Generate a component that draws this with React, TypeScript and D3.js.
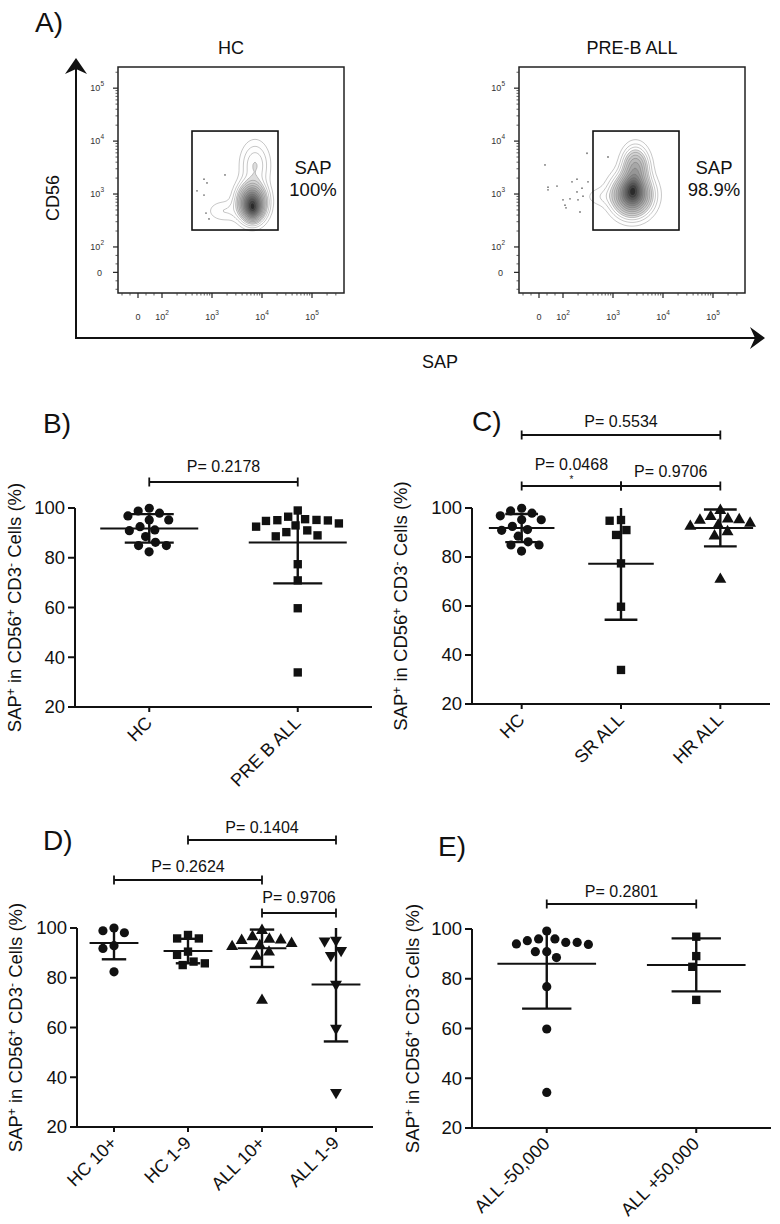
import React from "react";
import * as d3 from "d3";

const FONT = "'Liberation Sans', Arial, Helvetica, sans-serif";

// ---------------- Data ----------------
// % SAP+ in CD56+ CD3- cells
const hcValues = [99.9, 98.8, 97.9, 96.8, 95.2, 95.2, 92.5, 91.2, 90.9, 88.5, 86.2, 84.9, 84.9, 82.4];
const srAllValues = [94.8, 95.1, 91.0, 89.0, 77.4, 59.7, 33.9];
const hrAllValues = [99.0, 96.5, 95.5, 95.2, 95.0, 93.8, 93.0, 92.5, 90.3, 88.6, 70.9];
const preBAllValues = [...srAllValues, ...hrAllValues];
const hc10PlusValues = [100.0, 98.1, 98.9, 92.9, 91.8, 82.4];
const hc1to9Values = [97.2, 95.8, 95.8, 90.5, 89.2, 86.5, 85.8, 85.1];
const all10PlusValues = [99.0, 96.5, 95.5, 95.2, 95.0, 93.8, 93.0, 92.5, 90.3, 88.6, 70.9];
const all1to9Values = [94.8, 95.1, 91.0, 89.0, 77.4, 59.7, 33.9];
const allBelow50kValues = [99.2, 96.0, 94.0, 94.6, 93.8, 94.6, 95.3, 96.0, 90.9, 90.9, 88.5, 76.8, 59.8, 34.3];
const allAbove50kValues = [96.9, 89.1, 84.8, 71.5];

const yTickValues = [20, 40, 60, 80, 100];

const bCategories = ["HC", "PRE B ALL"];
const cCategories = ["HC", "SR ALL", "HR ALL"];
const dCategories = ["HC 10+", "HC 1-9", "ALL 10+", "ALL 1-9"];
const eCategories = ["ALL -50,000", "ALL +50,000"];

const bPLabels = ["P= 0.2178"];
const cPLabels = ["P= 0.5534", "P= 0.0468", "P= 0.9706"];
const dPLabels = ["P= 0.1404", "P= 0.2624", "P= 0.9706"];
const ePLabels = ["P= 0.2801"];

// Flow cytometry (panel A), axes in decades (log10 units)
const flowSamples = ["HC", "PRE-B ALL"];
const flowPercents = ["100%", "98.9%"];
const flowMajorTicks = [1.52, 2, 3, 4, 5];
const flowMajorLabels = ["0", "2", "3", "4", "5"];
const flowLinearMinorTicks = [1.2, 1.36, 1.68, 1.84];
const gateSAP = [2.6, 4.32];
const gateCD56 = [2.32, 4.19];
const hcPopulations = [
  { sap: 3.8, cd56: 2.85, sSap: 0.16, sCd56: 0.2, w: 1 },
  { sap: 3.82, cd56: 2.7, sSap: 0.1, sCd56: 0.12, w: 0.5 },
  { sap: 3.86, cd56: 3.55, sSap: 0.17, sCd56: 0.26, w: 0.15 },
  { sap: 3.25, cd56: 2.68, sSap: 0.22, sCd56: 0.13, w: 0.06 },
];
const preBPopulations = [
  { sap: 3.38, cd56: 2.98, sSap: 0.22, sCd56: 0.22, w: 1 },
  { sap: 3.4, cd56: 3.1, sSap: 0.12, sCd56: 0.16, w: 0.45 },
  { sap: 3.45, cd56: 3.5, sSap: 0.15, sCd56: 0.22, w: 0.5 },
  { sap: 2.75, cd56: 2.95, sSap: 0.2, sCd56: 0.12, w: 0.05 },
];
const hcOutliers: [number, number][] = [
  [2.84, 3.28], [2.9, 3.21], [2.7, 3.06], [2.84, 2.98], [3.26, 3.36], [2.88, 2.64], [2.94, 2.53],
];
const preBOutliers: [number, number][] = [
  [1.64, 3.55], [2.48, 3.77], [2.9, 3.7], [2.18, 3.23], [2.28, 3.28], [1.7, 3.13], [1.7, 3.08],
  [1.88, 3.15], [2.38, 3.11], [2.28, 3.04], [2.5, 3.23], [2.0, 2.89], [2.14, 2.91], [2.3, 2.89],
  [2.04, 2.79], [2.06, 2.74], [2.34, 2.66], [2.4, 2.96],
];
const contourLevels = [0.02, 0.045, 0.075, 0.11, 0.15, 0.2, 0.26, 0.33, 0.41, 0.5, 0.59, 0.68, 0.77, 0.86, 0.94];

// ---------------- Helpers ----------------
type Shape = "circle" | "square" | "triangleUp" | "triangleDown";
type Group = { name: string; values: number[]; shape: Shape };
type Bracket = { from: number; to: number; text: string; rise: number; gap: number; star?: boolean };
type Layout = {
  x0: number; x1: number; yTop: number; yBottom: number;
  letter: string; letterX: number; letterY: number; titleX: number;
};

function swarm(values: number[], y: (v: number) => number, diam: number) {
  const sorted = values.map((v) => v).sort((a, b) => b - a);
  const placed: { py: number; dx: number; v: number }[] = [];
  for (const v of sorted) {
    const py = y(v);
    const cands = [0];
    for (const q of placed) {
      const dy = Math.abs(q.py - py);
      if (dy < diam) {
        const h = Math.sqrt(diam * diam - dy * dy);
        cands.push(q.dx + h, q.dx - h);
      }
    }
    cands.sort((a, b) => Math.abs(a) - Math.abs(b) || a - b);
    let best = 0;
    for (const c of cands) {
      if (placed.every((q) => (q.dx - c) ** 2 + (q.py - py) ** 2 >= diam * diam - 0.01)) {
        best = c;
        break;
      }
    }
    placed.push({ py, dx: best, v });
  }
  return placed;
}

function Marker({ shape, cx, cy }: { shape: Shape; cx: number; cy: number }) {
  if (shape === "circle") return <circle cx={cx} cy={cy} r={4.6} fill="#111" />;
  const sym = shape === "square" ? d3.symbolSquare : d3.symbolTriangle;
  const size = shape === "square" ? 70 : 62;
  const d = d3.symbol(sym, size)() as string;
  const rot = shape === "triangleDown" ? 180 : 0;
  return <path d={d} transform={`translate(${cx},${cy}) rotate(${rot})`} fill="#111" />;
}

function YTitle({ x, y }: { x: number; y: number }) {
  return (
    <text transform={`translate(${x + 6},${y}) rotate(-90)`} textAnchor="middle" fontSize={18.5} fill="#111">
      SAP<tspan dy={-6} fontSize={12}>+</tspan>
      <tspan dy={6}> in CD56</tspan>
      <tspan dy={-6} fontSize={12}>+</tspan>
      <tspan dy={6}> CD3</tspan>
      <tspan dy={-6} fontSize={12}>-</tspan>
      <tspan dy={6}> Cells (%)</tspan>
    </text>
  );
}

function ScatterPanel({ layout, groups, brackets }: { layout: Layout; groups: Group[]; brackets: Bracket[] }) {
  const x = d3.scalePoint<string>().domain(groups.map((g) => g.name)).range([layout.x0, layout.x1]).padding(0.5);
  const y = d3.scaleLinear().domain([20, 100]).range([layout.yBottom, layout.yTop]);
  const step = x.step();
  const meanW = step * 0.66;
  const capW = step * 0.33;
  const [yMin, yMax] = y.domain();
  return (
    <g>
      <text x={layout.letterX} y={layout.letterY} fontSize={28} fill="#111">{layout.letter}</text>
      <YTitle x={layout.titleX} y={(layout.yTop + layout.yBottom) / 2} />
      {/* axes */}
      <line x1={layout.x0} x2={layout.x0} y1={y(100)} y2={y(20)} stroke="#111" strokeWidth={2} />
      <line x1={layout.x0 - 1} x2={layout.x1} y1={y(20)} y2={y(20)} stroke="#111" strokeWidth={2} />
      {yTickValues.map((t) => (
        <g key={t}>
          <line x1={layout.x0 - 7} x2={layout.x0} y1={y(t)} y2={y(t)} stroke="#111" strokeWidth={2} />
          <text x={layout.x0 - 10} y={y(t)} dy="0.35em" textAnchor="end" fontSize={18.5} fill="#111">{t}</text>
        </g>
      ))}
      {groups.map((g) => {
        const cx = x(g.name) as number;
        return (
          <g key={g.name}>
            <line x1={cx} x2={cx} y1={y(20)} y2={y(20) + 5} stroke="#111" strokeWidth={2} />
            <text transform={`translate(${cx + 4},${y(20) + 17}) rotate(-45)`} textAnchor="end" fontSize={18} fill="#111">{g.name}</text>
          </g>
        );
      })}
      {/* points */}
      {groups.map((g) => {
        const cx = x(g.name) as number;
        const pts = swarm(g.values, (v) => y(v), 11.4);
        return (
          <g key={g.name + "pts"}>
            {pts.map((p, i) => (
              <Marker key={i} shape={g.shape} cx={cx + p.dx} cy={p.py} />
            ))}
          </g>
        );
      })}
      {/* mean +/- SD */}
      {groups.map((g) => {
        const cx = x(g.name) as number;
        const m = d3.mean(g.values) as number;
        const sd = d3.deviation(g.values) as number;
        const hi = m + sd;
        const lo = m - sd;
        const hiC = Math.min(hi, yMax);
        const loC = Math.max(lo, yMin);
        return (
          <g key={g.name + "err"} stroke="#111">
            <line x1={cx} x2={cx} y1={y(hiC)} y2={y(loC)} strokeWidth={2.4} />
            <line x1={cx - meanW / 2} x2={cx + meanW / 2} y1={y(m)} y2={y(m)} strokeWidth={2} />
            {hi <= yMax && <line x1={cx - capW / 2} x2={cx + capW / 2} y1={y(hi)} y2={y(hi)} strokeWidth={2.4} />}
            {lo >= yMin && <line x1={cx - capW / 2} x2={cx + capW / 2} y1={y(lo)} y2={y(lo)} strokeWidth={2.4} />}
          </g>
        );
      })}
      {/* significance brackets */}
      {brackets.map((b, i) => {
        const xa = x(groups[b.from].name) as number;
        const xb = x(groups[b.to].name) as number;
        const by = layout.yTop - b.rise;
        return (
          <g key={"br" + i}>
            <line x1={xa} x2={xb} y1={by} y2={by} stroke="#111" strokeWidth={1.8} />
            <line x1={xa} x2={xa} y1={by - 4.5} y2={by + 4.5} stroke="#111" strokeWidth={1.8} />
            <line x1={xb} x2={xb} y1={by - 4.5} y2={by + 4.5} stroke="#111" strokeWidth={1.8} />
            <text x={(xa + xb) / 2} y={by - b.gap} textAnchor="middle" fontSize={16} fill="#111">{b.text}</text>
            {b.star && (
              <text x={(xa + xb) / 2} y={by - 3} textAnchor="middle" fontSize={10} fill="#111">*</text>
            )}
          </g>
        );
      })}
    </g>
  );
}

type Pop = { sap: number; cd56: number; sSap: number; sCd56: number; w: number };

function FlowPlot({ box, pops, outliers, title, pct }: {
  box: { x0: number; x1: number; y0: number; y1: number }; pops: Pop[]; outliers: [number, number][]; title: string; pct: string;
}) {
  const x = d3.scaleLinear().domain([1.12, 5.64]).range([box.x0, box.x1]);
  const y = d3.scaleLinear().domain([1.13, 5.4]).range([box.y1, box.y0]);
  const step = 2;
  const nx = Math.ceil((box.x1 - box.x0) / step);
  const ny = Math.ceil((box.y1 - box.y0) / step);
  const grid: number[] = new Array(nx * ny);
  for (let j = 0; j < ny; j++) {
    const dv = y.invert(box.y0 + (j + 0.5) * step);
    for (let i = 0; i < nx; i++) {
      const dh = x.invert(box.x0 + (i + 0.5) * step);
      let s = 0;
      for (const p of pops) {
        const a = (dh - p.sap) / p.sSap;
        const b = (dv - p.cd56) / p.sCd56;
        s += p.w * Math.exp(-0.5 * (a * a + b * b));
      }
      grid[j * nx + i] = s;
    }
  }
  const mx = d3.max(grid) as number;
  const contours = d3.contours().size([nx, ny]).thresholds(contourLevels.map((l) => l * mx))(grid);
  const path = d3.geoPath(d3.geoIdentity().scale(step).translate([box.x0, box.y0]) as any);
  const n = contours.length;

  const minor: number[] = [...flowLinearMinorTicks];
  [2, 3, 4, 5].forEach((dd) => d3.range(2, 10).forEach((k) => {
    const v = dd + Math.log10(k);
    if (v < 5.6) minor.push(v);
  }));
  const yMinor = minor.filter((v) => v < 5.38);

  return (
    <g>
      <text x={(box.x0 + box.x1) / 2} y={box.y0 - 13} textAnchor="middle" fontSize={18} fill="#111">{title}</text>
      {contours.map((c, i) => {
        const t = n > 1 ? i / (n - 1) : 0;
        return (
          <path key={i} d={path(c as any) || ""} fill={d3.interpolateGreys(i < 3 ? 0.01 : 0.08 + 0.78 * Math.pow(t, 1.1))}
            stroke="#666" strokeOpacity={0.6} strokeWidth={0.6} />
        );
      })}
      {outliers.map((o, i) => (
        <circle key={i} cx={x(o[0])} cy={y(o[1])} r={0.9} fill="#777" />
      ))}
      <rect x={x(gateSAP[0])} y={y(gateCD56[1])} width={x(gateSAP[1]) - x(gateSAP[0])} height={y(gateCD56[0]) - y(gateCD56[1])}
        fill="none" stroke="#111" strokeWidth={1.6} />
      <text x={box.x1 - 31} y={y(gateCD56[1]) + 43} textAnchor="middle" fontSize={18.5} fill="#111">SAP</text>
      <text x={box.x1 - 31} y={y(gateCD56[1]) + 65} textAnchor="middle" fontSize={18.5} fill="#111">{pct}</text>
      <rect x={box.x0} y={box.y0} width={box.x1 - box.x0} height={box.y1 - box.y0} fill="none" stroke="#222" strokeWidth={1.5} />
      {/* ticks */}
      {minor.map((v, i) => (
        <line key={"xm" + i} x1={x(v)} x2={x(v)} y1={box.y1} y2={box.y1 + 2.5} stroke="#333" strokeWidth={0.8} />
      ))}
      {yMinor.map((v, i) => (
        <line key={"ym" + i} x1={box.x0 - 2.5} x2={box.x0} y1={y(v)} y2={y(v)} stroke="#333" strokeWidth={0.8} />
      ))}
      {flowMajorTicks.map((v, i) => (
        <g key={"mj" + i}>
          <line x1={x(v)} x2={x(v)} y1={box.y1} y2={box.y1 + 5} stroke="#222" strokeWidth={1.2} />
          <line x1={box.x0 - 5} x2={box.x0} y1={y(v)} y2={y(v)} stroke="#222" strokeWidth={1.2} />
          {i === 0 ? (
            <>
              <text x={x(v)} y={box.y1 + 27} textAnchor="middle" fontSize={9} fill="#333">0</text>
              <text x={box.x0 - 16} y={y(v)} dy="0.35em" textAnchor="end" fontSize={9} fill="#333">0</text>
            </>
          ) : (
            <>
              <text x={x(v)} y={box.y1 + 27} textAnchor="middle" fontSize={9} fill="#333">
                10<tspan dy={-5} fontSize={6.5}>{flowMajorLabels[i]}</tspan>
              </text>
              <text x={box.x0 - 14} y={y(v)} dy="0.35em" textAnchor="end" fontSize={9} fill="#333">
                10<tspan dy={-5} fontSize={6.5}>{flowMajorLabels[i]}</tspan>
              </text>
            </>
          )}
        </g>
      ))}
    </g>
  );
}

export default function App() {
  const bGroups: Group[] = [
    { name: bCategories[0], values: hcValues, shape: "circle" },
    { name: bCategories[1], values: preBAllValues, shape: "square" },
  ];
  const cGroups: Group[] = [
    { name: cCategories[0], values: hcValues, shape: "circle" },
    { name: cCategories[1], values: srAllValues, shape: "square" },
    { name: cCategories[2], values: hrAllValues, shape: "triangleUp" },
  ];
  const dGroups: Group[] = [
    { name: dCategories[0], values: hc10PlusValues, shape: "circle" },
    { name: dCategories[1], values: hc1to9Values, shape: "square" },
    { name: dCategories[2], values: all10PlusValues, shape: "triangleUp" },
    { name: dCategories[3], values: all1to9Values, shape: "triangleDown" },
  ];
  const eGroups: Group[] = [
    { name: eCategories[0], values: allBelow50kValues, shape: "circle" },
    { name: eCategories[1], values: allAbove50kValues, shape: "square" },
  ];

  return (
    <svg width={780} height={1224} style={{ position: "absolute", left: 0, top: 0, fontFamily: FONT }}>
      <rect width={780} height={1224} fill="#fff" />
      {/* Panel A */}
      <text x={35} y={32} fontSize={28} fill="#111">A)</text>
      <line x1={76} x2={76} y1={338} y2={66} stroke="#111" strokeWidth={2} />
      <path d="M76,58 L65,74 L76,69 L87,74 Z" fill="#111" />
      <line x1={75} x2={757} y1={338} y2={338} stroke="#111" strokeWidth={2} />
      <path d="M765,338 L750,327 L755,338 L750,349 Z" fill="#111" />
      <text transform="translate(59,198) rotate(-90)" textAnchor="middle" fontSize={18} fill="#111">CD56</text>
      <text x={440} y={368} textAnchor="middle" fontSize={18} fill="#111">SAP</text>
      <FlowPlot box={{ x0: 118, x1: 344, y0: 67, y1: 293 }} pops={hcPopulations} outliers={hcOutliers}
        title={flowSamples[0]} pct={flowPercents[0]} />
      <FlowPlot box={{ x0: 519, x1: 745, y0: 67, y1: 293 }} pops={preBPopulations} outliers={preBOutliers}
        title={flowSamples[1]} pct={flowPercents[1]} />

      <ScatterPanel
        layout={{ x0: 75, x1: 372, yTop: 508, yBottom: 707, letter: "B)", letterX: 43, letterY: 433, titleX: 15 }}
        groups={bGroups}
        brackets={[{ from: 0, to: 1, text: bPLabels[0], rise: 26, gap: 10 }]}
      />
      <ScatterPanel
        layout={{ x0: 472, x1: 770, yTop: 508, yBottom: 704, letter: "C)", letterX: 472, letterY: 431, titleX: 401 }}
        groups={cGroups}
        brackets={[
          { from: 0, to: 2, text: cPLabels[0], rise: 73, gap: 8 },
          { from: 0, to: 1, text: cPLabels[1], rise: 22, gap: 16, star: true },
          { from: 1, to: 2, text: cPLabels[2], rise: 22, gap: 9 },
        ]}
      />
      <ScatterPanel
        layout={{ x0: 77, x1: 373, yTop: 928, yBottom: 1127, letter: "D)", letterX: 43, letterY: 850, titleX: 16 }}
        groups={dGroups}
        brackets={[
          { from: 1, to: 3, text: dPLabels[0], rise: 88, gap: 7 },
          { from: 0, to: 2, text: dPLabels[1], rise: 48, gap: 8 },
          { from: 2, to: 3, text: dPLabels[2], rise: 15, gap: 10 },
        ]}
      />
      <ScatterPanel
        layout={{ x0: 472, x1: 771, yTop: 929, yBottom: 1128, letter: "E)", letterX: 438, letterY: 856, titleX: 413 }}
        groups={eGroups}
        brackets={[{ from: 0, to: 1, text: ePLabels[0], rise: 25, gap: 7 }]}
      />
    </svg>
  );
}
